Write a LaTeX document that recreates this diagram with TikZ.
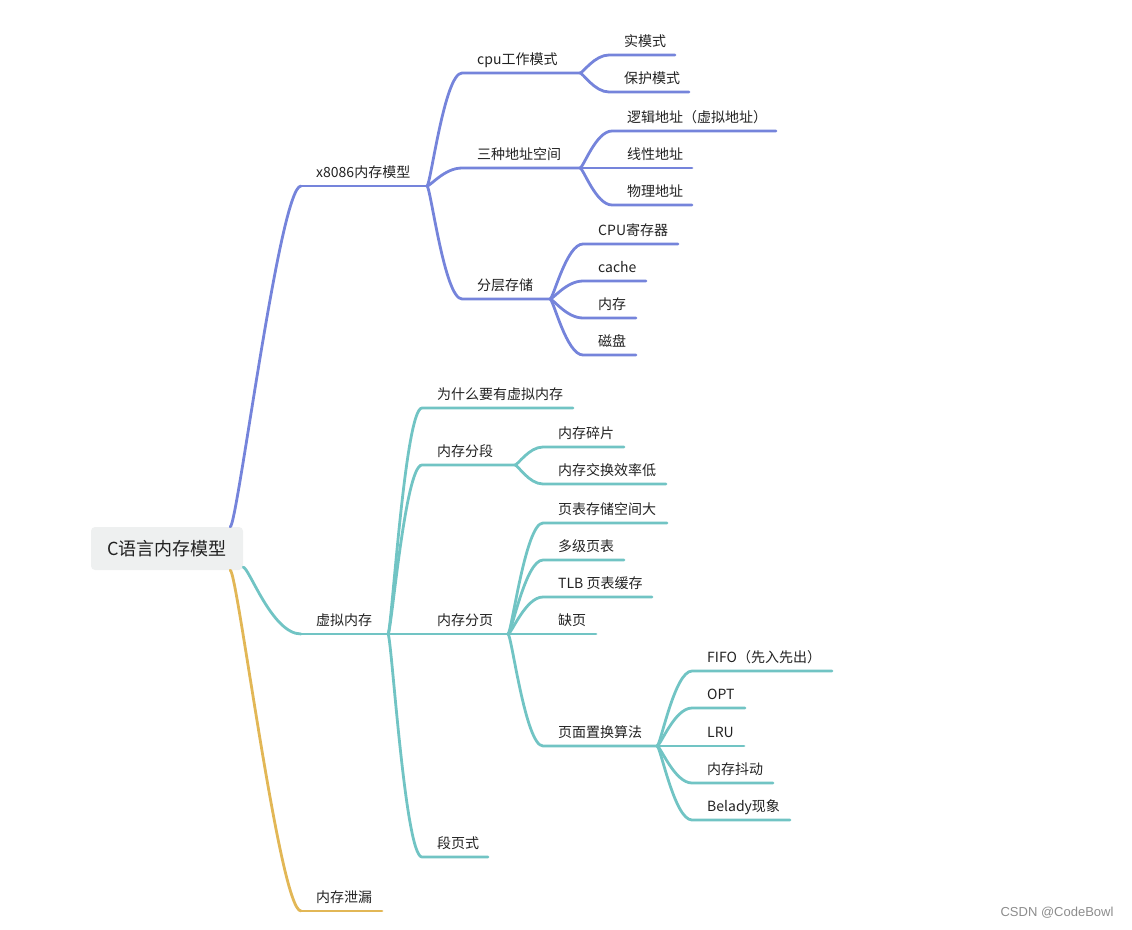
\documentclass[tikz,border=0pt]{standalone}
\usepackage{fontspec}
\setmainfont{Noto Sans CJK SC}
\newfontfamily\markfont{Liberation Sans}
\usepackage{tikz}
\usetikzlibrary{calc}
\definecolor{mapblue}{RGB}{117,132,219}
\definecolor{mapteal}{RGB}{113,196,196}
\definecolor{mapgold}{RGB}{226,183,86}
\definecolor{rootgray}{RGB}{238,240,240}
\definecolor{inkdark}{RGB}{34,34,34}
\tikzset{
  limb/.style={line width=2.8pt,line cap=round},
  bluelimb/.style={limb,draw=mapblue},
  teallimb/.style={limb,draw=mapteal},
  goldlimb/.style={limb,draw=mapgold},
  branch/.style={to path={let \p1=(\tikztostart),\p2=(\tikztotarget) in
      .. controls ({\x1+0.1*(\x2-\x1)},\y1) and ({\x1+#1*(\x2-\x1)},\y2) .. (\tikztotarget)}},
  branch/.default=0.5,
  topic/.style={anchor=base west,inner sep=0pt,text=inkdark,font=\fontsize{14}{16}\selectfont},
  rootbox/.style={fill=rootgray,rounded corners=4pt,minimum width=152pt,minimum height=43pt,
                  text=inkdark,font=\fontsize{18}{20}\selectfont},
}

\begin{document}
\begin{tikzpicture}[x=1pt,y=-1pt]
  \path[use as bounding box] (0,0) rectangle (1132,929);

  % root
  \node[rootbox] (root) at (167,548.5) {C语言内存模型};

  % first level
  \foreach \nm/\yy/\xe/\col/\lab in {x86/186/427/mapblue/x8086内存模型,
      vm/634/388/mapteal/虚拟内存, leak/911/382/mapgold/内存泄漏} {
    \coordinate (\nm-s) at (301,\yy);
    \coordinate (\nm-e) at (\xe,\yy);
    \node[topic] (\nm) at (316,\yy-9) {\lab};
    \draw[limb,draw=\col] (\nm-s) -- (\nm-e);
  }
  \draw[bluelimb] ($(root.north east)+(-13,0)$) to[branch=0.7] (x86-s);
  \draw[teallimb] ($(root.south east)+(0,-3)$) to[branch] (vm-s);
  \draw[goldlimb] ($(root.south east)+(-13,0)$) to[branch=0.7] (leak-s);

  % x8086 memory model
  \foreach \nm/\yy/\xe/\lab in {cpu/73/580/cpu工作模式, addr/168/580/三种地址空间,
      store/299/550/分层存储} {
    \coordinate (\nm-s) at (462,\yy);
    \coordinate (\nm-e) at (\xe,\yy);
    \node[topic] (\nm) at (477,\yy-9) {\lab};
    \draw[bluelimb] (x86-e) to[branch] (\nm-s) -- (\nm-e);
  }
  \foreach \nm/\yy/\xe/\lab in {real/55/675/实模式, prot/92/689/保护模式} {
    \coordinate (\nm-s) at (609,\yy);
    \node[topic] (\nm) at (624,\yy-9) {\lab};
    \draw[bluelimb] (cpu-e) to[branch] (\nm-s) -- (\xe,\yy);
  }
  \foreach \nm/\yy/\xe/\lab in {logic/131/776/逻辑地址（虚拟地址）, linear/168/692/线性地址,
      phys/205/692/物理地址} {
    \coordinate (\nm-s) at (612,\yy);
    \node[topic] (\nm) at (627,\yy-9) {\lab};
    \draw[bluelimb] (addr-e) to[branch] (\nm-s) -- (\xe,\yy);
  }
  \foreach \nm/\yy/\xe/\lab in {reg/244/678/CPU寄存器, cache/281/646/cache,
      mem/318/636/内存, disk/355/636/磁盘} {
    \coordinate (\nm-s) at (583,\yy);
    \node[topic] (\nm) at (598,\yy-9) {\lab};
    \draw[bluelimb] (store-e) to[branch] (\nm-s) -- (\xe,\yy);
  }

  % virtual memory
  \foreach \nm/\yy/\xe/\lab in {why/408/573/为什么要有虚拟内存, seg/465/515/内存分段,
      page/634/508/内存分页, segpage/857/488/段页式} {
    \coordinate (\nm-s) at (422,\yy);
    \coordinate (\nm-e) at (\xe,\yy);
    \node[topic] (\nm) at (437,\yy-9) {\lab};
    \draw[teallimb] (vm-e) to[branch] (\nm-s) -- (\nm-e);
  }
  \foreach \nm/\yy/\xe/\lab in {frag/447/624/内存碎片, swap/484/666/内存交换效率低} {
    \coordinate (\nm-s) at (543,\yy);
    \node[topic] (\nm) at (558,\yy-9) {\lab};
    \draw[teallimb] (seg-e) to[branch] (\nm-s) -- (\xe,\yy);
  }
  \foreach \nm/\yy/\xe/\lab in {ptsize/523/667/页表存储空间大, multi/560/624/多级页表,
      tlb/597/652/TLB 页表缓存, fault/634/596/缺页, repl/746/657/页面置换算法} {
    \coordinate (\nm-s) at (543,\yy);
    \coordinate (\nm-e) at (\xe,\yy);
    \node[topic] (\nm) at (558,\yy-9) {\lab};
    \draw[teallimb] (page-e) to[branch] (\nm-s) -- (\nm-e);
  }
  \foreach \nm/\yy/\xe/\lab in {fifo/671/832/FIFO（先入先出）, opt/708/745/OPT, lru/746/744/LRU,
      thrash/783/773/内存抖动, belady/820/790/Belady现象} {
    \coordinate (\nm-s) at (692,\yy);
    \node[topic] (\nm) at (707,\yy-9) {\lab};
    \draw[teallimb] (repl-e) to[branch] (\nm-s) -- (\xe,\yy);
  }

  \node[font=\markfont\fontsize{13}{15}\selectfont,text=black!45,anchor=east] (mark)
    at (1117,913) {CSDN @CodeBowl};
\end{tikzpicture}
\end{document}
